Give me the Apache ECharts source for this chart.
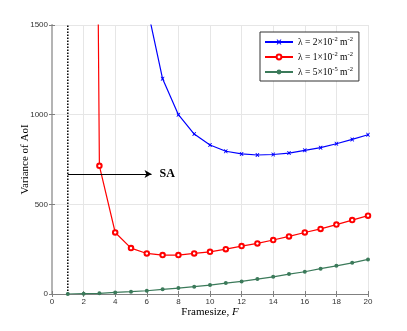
<!DOCTYPE html>
<html>
<head>
<meta charset="utf-8">
<script src="https://cdn.jsdelivr.net/npm/echarts@6/dist/echarts.min.js"></script>
<style>
  html,body{margin:0;padding:0;background:#fff;}
  #chart{width:407px;height:331px;}
</style>
</head>
<body>
<div id="chart"></div>
<script>
  // 数据
  var frames = [1,2,3,4,5,6,7,8,9,10,11,12,13,14,15,16,17,18,19,20];
  var lam2 = [null,null,null,null,null,1610,1200,1000,892,831,796,781,775,778,786,801,816,838,862,888];
  var lam1 = [null,12000,715,343,256,226,217,217,226,235,250,267,282,301,321,343,363,387,412,437];
  var lam5 = [0,2,4,9,13,18,26,33,41,50,61,70,83,96,111,124,141,157,174,193];
  var seriesNames = ['l2', 'l1', 'l5'];
  var legendText = {
    l2: '{n|λ = 2×10}{s|-2}{n| m}{s|-2}',
    l1: '{n|λ = 1×10}{s|-2}{n| m}{s|-2}',
    l5: '{n|λ = 5×10}{s|-5}{n| m}{s|-2}'
  };
  var saLine = [[1, 669], [6.3, 669]];
  var dotLine = [[1, 0], [1, 1500]];

  function pairs(vals){
    return frames.map(function(f, i){ return [f, vals[i]]; });
  }

  var crossSym = 'path://M0,0 L2,0 L5,3 L8,0 L10,0 L7,5 L10,10 L8,10 L5,7 L2,10 L0,10 L3,5 Z';
  var gray = '#808080';
  var serif = '"Liberation Serif", "DejaVu Serif", serif';
  var sans = '"Liberation Sans", Arial, sans-serif';

  var myChart = echarts.init(document.getElementById('chart'));
  myChart.setOption({
    animation: false,
    backgroundColor: '#fff',
    grid: {left: 52, right: 39, top: 25, bottom: 37},
    legend: {
      orient: 'vertical',
      left: 260,
      top: 32,
      padding: [4, 6, 4, 4],
      itemWidth: 28,
      itemHeight: 6,
      itemGap: 4,
      backgroundColor: '#fff',
      borderColor: '#333',
      borderWidth: 1,
      data: seriesNames,
      formatter: function(name){ return legendText[name]; },
      textStyle: {
        rich: {
          n: {fontFamily: serif, fontSize: 9.5, color: '#000'},
          s: {fontFamily: serif, fontSize: 6.5, color: '#000', padding: [0, 0, 5, 0]}
        }
      }
    },
    xAxis: [{
      type: 'value',
      min: 0, max: 20, interval: 2,
      name: 'Framesize, {i|F}',
      nameLocation: 'middle',
      nameMoveOverlap: false,
      nameGap: 13,
      nameTextStyle: {
        fontFamily: serif, fontSize: 11, color: '#000',
        rich: {i: {fontFamily: serif, fontStyle: 'italic', fontSize: 11, color: '#000'}}
      },
      axisLine: {lineStyle: {color: gray}},
      axisTick: {inside: true, length: 3, lineStyle: {color: gray}},
      axisLabel: {fontFamily: sans, fontSize: 8, color: '#333', margin: 4},
      splitLine: {show: true, lineStyle: {color: '#e6e6e6'}}
    }, {
      type: 'value', position: 'top',
      min: 0, max: 20, interval: 2,
      axisLine: {show: true, lineStyle: {color: gray}},
      axisTick: {inside: true, length: 3, lineStyle: {color: gray}},
      axisLabel: {show: false},
      splitLine: {show: false}
    }],
    yAxis: [{
      type: 'value',
      min: 0, max: 1500, interval: 500,
      name: 'Variance of AoI',
      nameLocation: 'middle',
      nameMoveOverlap: false,
      nameGap: 21,
      nameTextStyle: {fontFamily: serif, fontSize: 11, color: '#000'},
      axisLine: {show: true, lineStyle: {color: gray}},
      axisTick: {show: true, inside: true, length: 3, lineStyle: {color: gray}},
      axisLabel: {fontFamily: sans, fontSize: 8, color: '#333', margin: 4,
        formatter: function(v){ return String(v); }},
      splitLine: {show: true, lineStyle: {color: '#e6e6e6'}}
    }, {
      type: 'value', position: 'right',
      min: 0, max: 1500, interval: 500,
      axisLine: {show: true, lineStyle: {color: '#b4b4b4', width: 2}},
      axisTick: {show: true, inside: true, length: 3, lineStyle: {color: gray}},
      axisLabel: {show: false},
      splitLine: {show: false}
    }],
    series: [
      {
        name: 'l2', type: 'line',
        data: pairs(lam2),
        color: '#0000ff',
        symbol: crossSym, symbolSize: 4, showAllSymbol: true,
        lineStyle: {width: 1.2},
        itemStyle: {color: '#0000ff'},
        z: 4
      },
      {
        name: 'l1', type: 'line',
        data: pairs(lam1),
        color: '#ff0000',
        symbol: 'emptyCircle', symbolSize: 4.5, showAllSymbol: true,
        lineStyle: {width: 1.2},
        itemStyle: {color: '#ff0000', borderWidth: 1.1},
        z: 4
      },
      {
        name: 'l5', type: 'line',
        data: pairs(lam5),
        color: '#3b7a5a',
        symbol: 'circle', symbolSize: 4, showAllSymbol: true,
        lineStyle: {width: 1.2},
        itemStyle: {color: '#3b7a5a'},
        z: 4
      },
      {
        name: 'dot', type: 'line',
        data: dotLine,
        symbol: 'none',
        lineStyle: {color: '#000', width: 1.5, type: [1.5, 1.5]},
        z: 3
      },
      {
        name: 'sa', type: 'line',
        data: [],
        markLine: {
          silent: true,
          symbol: ['none', 'arrow'],
          symbolSize: [6, 7],
          lineStyle: {color: '#000', width: 1.2, type: 'solid'},
          label: {
            show: true, position: 'end', distance: 8,
            formatter: 'SA',
            fontFamily: serif, fontWeight: 'bold', fontSize: 12, color: '#000'
          },
          data: [[{coord: saLine[0]}, {coord: saLine[1]}]]
        },
        z: 5
      }
    ]
  });
</script>
</body>
</html>
